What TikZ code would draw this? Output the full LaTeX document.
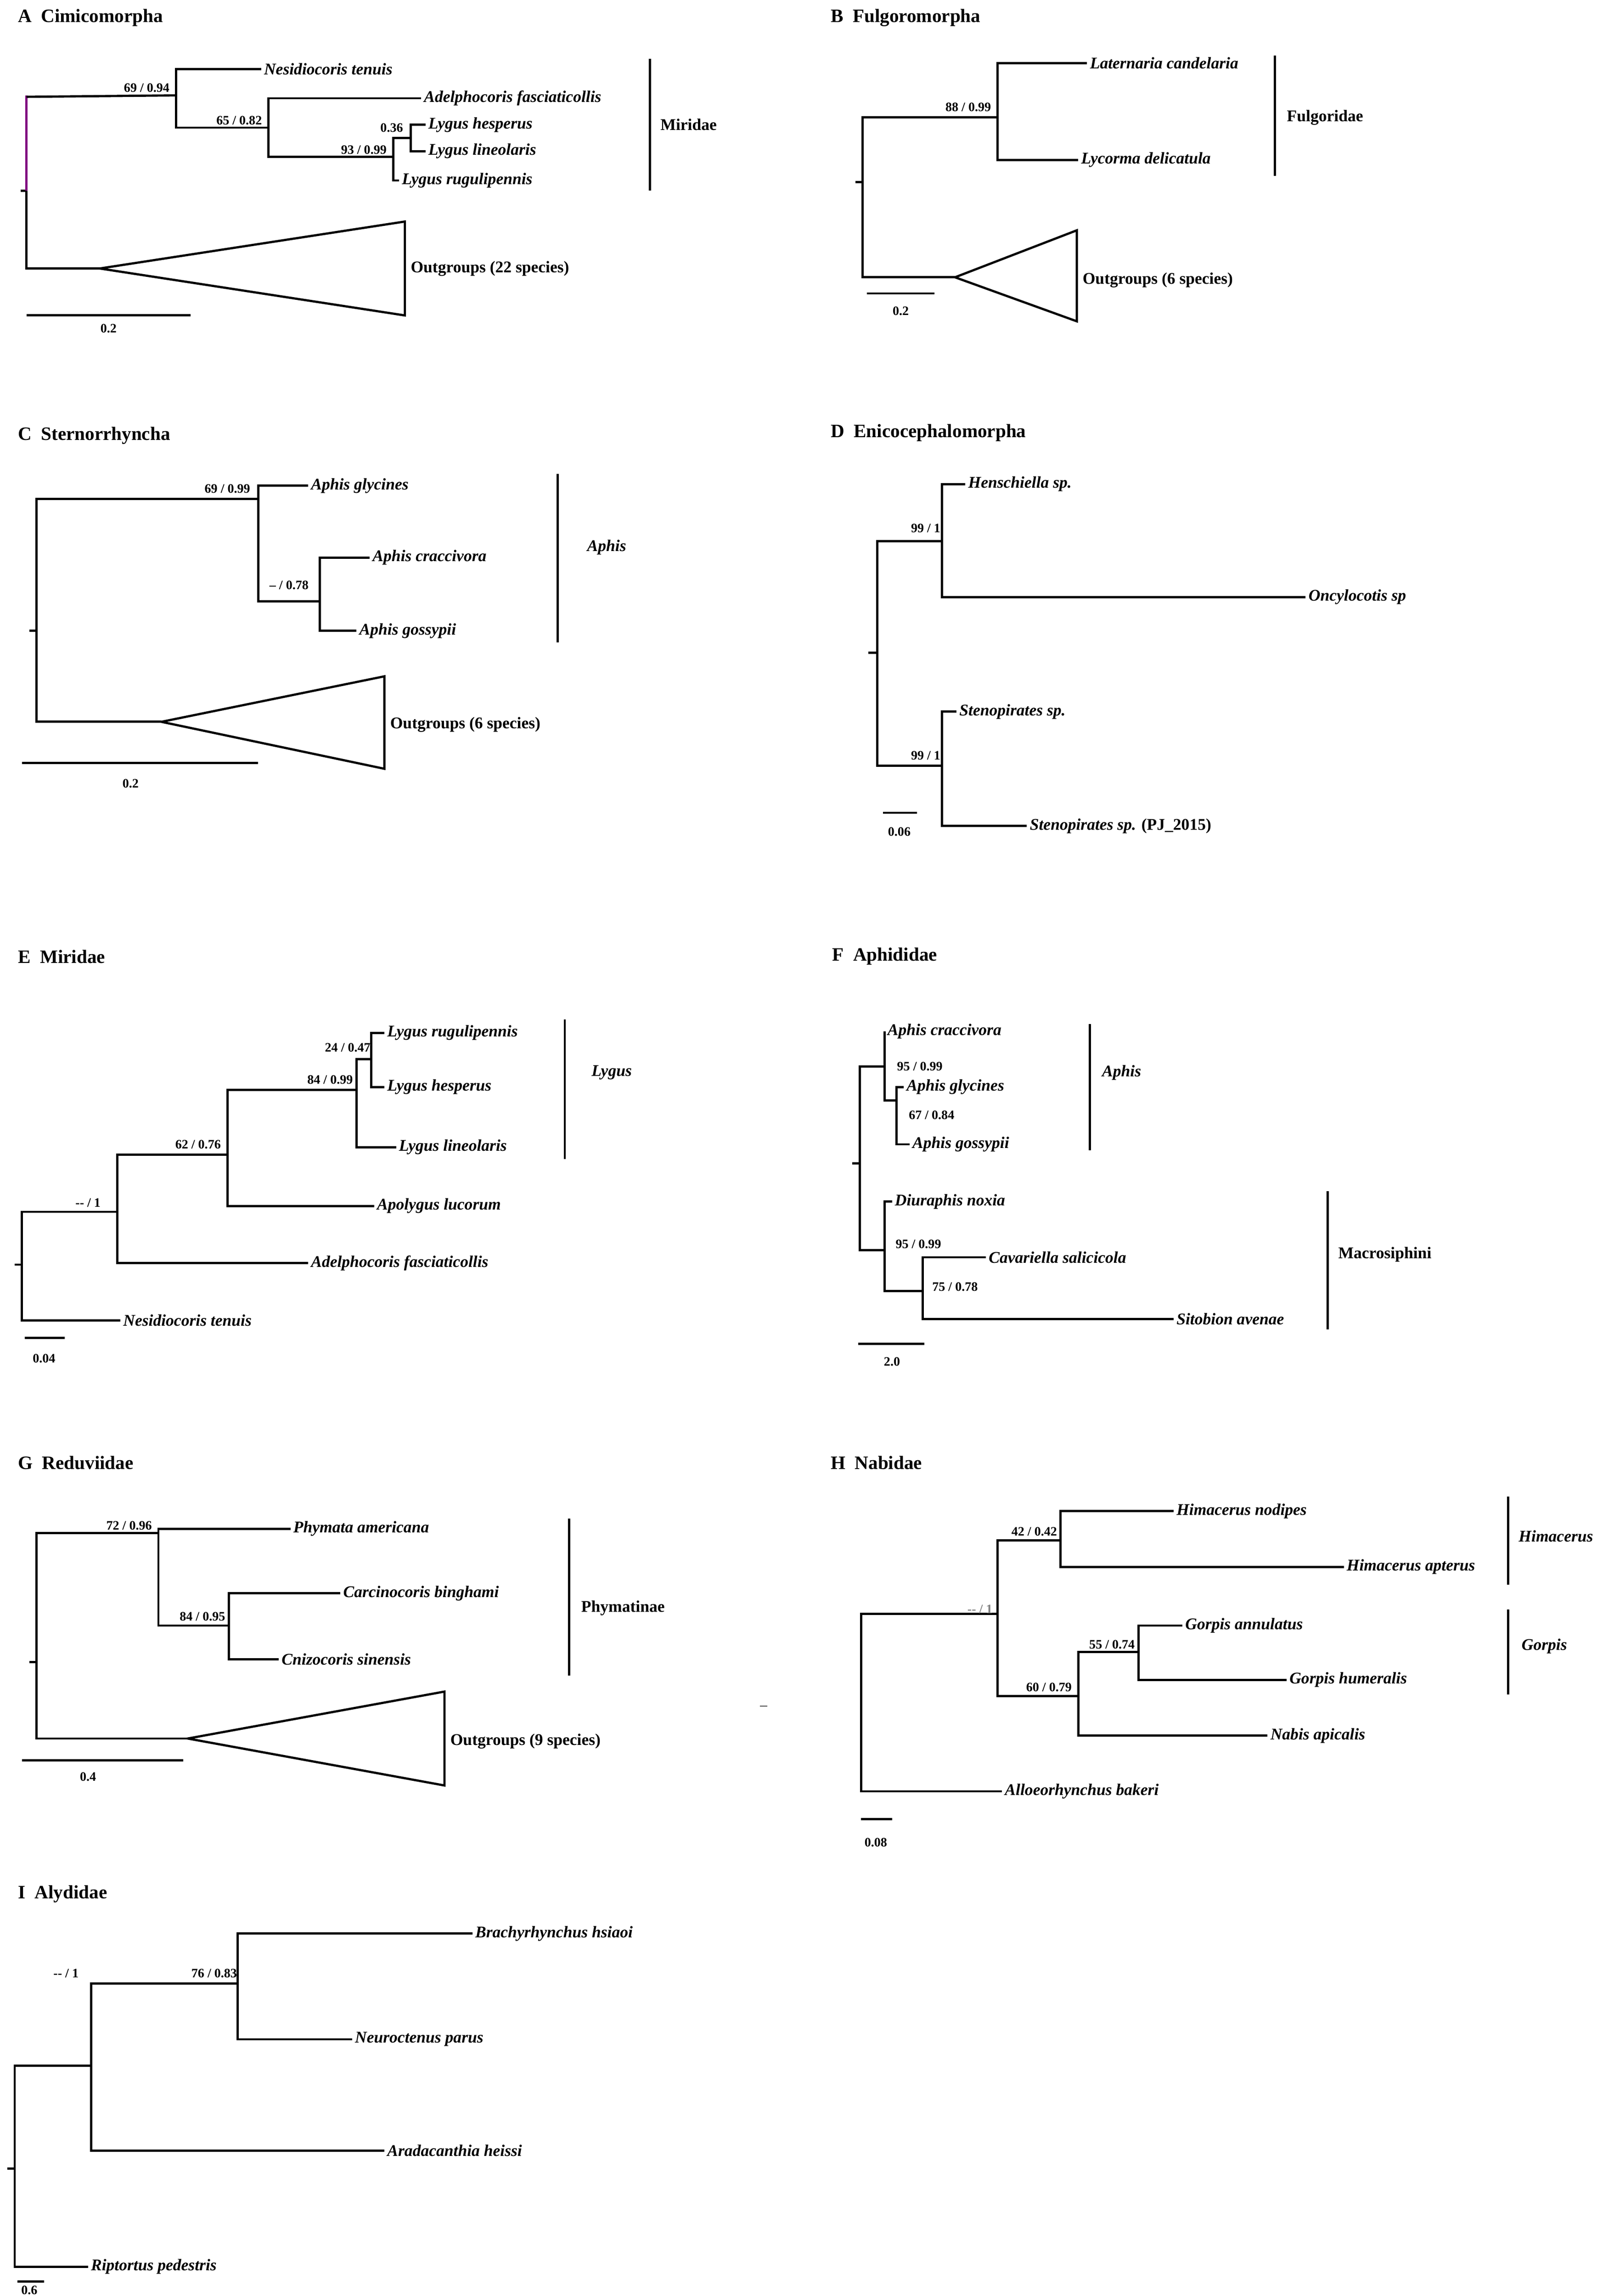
\documentclass[tikz,border=0pt]{standalone}
\usepackage{fontspec}
\setmainfont{Liberation Serif}
\usetikzlibrary{positioning}
\tikzset{
  br/.style={line width=1.3pt},
  tip/.style={anchor=west,inner sep=1.5pt,font=\fontsize{9.5}{10}\selectfont\bfseries\itshape},
  sup/.style={inner sep=0pt,font=\fontsize{7.5}{8}\selectfont\bfseries},
  ttl/.style={anchor=west,inner sep=0pt,font=\fontsize{11}{12}\selectfont\bfseries},
  grp/.style={anchor=west,inner sep=0pt,font=\fontsize{9.5}{10}\selectfont\bfseries},
  igrp/.style={grp,font=\fontsize{9.5}{10}\selectfont\bfseries\itshape},
  outg/.style={anchor=west,inner sep=1.5pt,font=\fontsize{9.5}{10}\selectfont\bfseries}
}
\begin{document}
\begin{tikzpicture}[x=0.03cm,y=-0.03cm]
\useasboundingbox (0,0) rectangle (1100,1565);
% A
\node[ttl] (tA) at (12,12) {A\enspace Cimicomorpha};
\coordinate (rA) at (18,130); \coordinate (a1) at (120,65); \coordinate (a2) at (183,87);
\coordinate (a3) at (268,107); \coordinate (a4) at (280,94); \coordinate (oA) at (68,183);
\node[tip] (Ant) at (178,47) {Nesidiocoris tenuis};
\node[tip] (Aaf) at (287,67) {Adelphocoris fasciaticollis};
\node[tip] (Alh) at (290,85) {Lygus hesperus};
\node[tip] (All) at (290,103) {Lygus lineolaris};
\node[tip] (Alr) at (272,123) {Lygus rugulipennis};
\draw[br] (14,130) -- (rA);
\draw[br,violet] (rA) -- (18,65);
\draw[br] (18,66) -- (a1) (rA) |- (oA);
\draw[br] (a1) |- (Ant.west) (a1) |- (a2) (a2) |- (Aaf.west) (a2) |- (a3)
  (a3) |- (a4) (a3) |- (Alr.west) (a4) |- (Alh.west) (a4) |- (All.west);
\draw[br] (oA) -- (276,151) -- (276,215) -- cycle;
\node[outg] (oAl) at (278,183) {Outgroups (22 species)};
\node[sup] at (100,60) {69 / 0.94};
\node[sup] at (163,82) {65 / 0.82};
\node[sup] at (248,102) {93 / 0.99};
\node[sup] at (267,87) {0.36};
\draw[br] (443,40) -- (443,130); \node[grp] at (450,85) {Miridae};
\draw[br] (18,215) -- (130,215); \node[sup] at (74,224) {0.2};
% B
\node[ttl] (tB) at (566,12) {B\enspace Fulgoromorpha};
\coordinate (rB) at (588,124); \coordinate (b1) at (680,80); \coordinate (oB) at (651,189);
\node[tip] (Blc) at (741,43) {Laternaria candelaria};
\node[tip] (Bld) at (735,109) {Lycorma delicatula};
\draw[br] (583,124) -- (rB) (rB) |- (b1) (rB) |- (oB) (b1) |- (Blc.west) (b1) |- (Bld.west);
\draw[br] (oB) -- (734,157) -- (734,219) -- cycle;
\node[outg] at (736,191) {Outgroups (6 species)};
\node[sup] at (660,73) {88 / 0.99};
\draw[br] (869,38) -- (869,120); \node[grp] at (877,80) {Fulgoridae};
\draw[br] (591,200) -- (637,200); \node[sup] at (614,212) {0.2};
% C
\node[ttl] (tC) at (12,297) {C\enspace Sternorrhyncha};
\coordinate (rC) at (25,430); \coordinate (c1) at (176,340); \coordinate (c2) at (218,410); \coordinate (oC) at (110,492);
\node[tip] (Cgl) at (210,331) {Aphis glycines};
\node[tip] (Ccr) at (252,380) {Aphis craccivora};
\node[tip] (Cgo) at (243,430) {Aphis gossypii};
\draw[br] (20,430) -- (rC) (rC) |- (c1) (rC) |- (oC) (c1) |- (Cgl.west) (c1) |- (c2)
  (c2) |- (Ccr.west) (c2) |- (Cgo.west);
\draw[br] (oC) -- (262,461) -- (262,524) -- cycle;
\node[outg] at (264,494) {Outgroups (6 species)};
\node[sup] at (155,333) {69 / 0.99};
\node[sup] at (197,399) {-- / 0.78};
\draw[br] (380,323) -- (380,438); \node[igrp] at (400,373) {Aphis};
\draw[br] (15,520) -- (176,520); \node[sup] at (89,534) {0.2};
% D
\node[ttl] (tD) at (566,295) {D\enspace Enicocephalomorpha};
\coordinate (rD) at (598,445); \coordinate (d1) at (642,369); \coordinate (d2) at (642,522);
\node[tip] (Dhs) at (658,330) {Henschiella sp.};
\node[tip] (Dos) at (890,407) {Oncylocotis sp};
\node[tip] (Dss) at (652,485) {Stenopirates sp.};
\node[tip] (Dpj) at (700,563) {Stenopirates sp. \upshape(PJ\_2015)};
\draw[br] (592,445) -- (rD) (rD) |- (d1) (rD) |- (d2) (d1) |- (Dhs.west) (d1) |- (Dos.west)
  (d2) |- (Dss.west) (d2) |- (Dpj.west);
\node[sup] at (631,360) {99 / 1};
\node[sup] at (631,515) {99 / 1};
\draw[br] (602,554) -- (625,554); \node[sup] at (613,567) {0.06};
% E
\node[ttl] (tE) at (12,652) {E\enspace Miridae};
\coordinate (rE) at (15,862); \coordinate (e1) at (80,826); \coordinate (e2) at (155,787);
\coordinate (e3) at (243,743); \coordinate (e4) at (253,722);
\node[tip] (Elr) at (262,704) {Lygus rugulipennis};
\node[tip] (Elh) at (262,741) {Lygus hesperus};
\node[tip] (Ell) at (270,782) {Lygus lineolaris};
\node[tip] (Eal) at (255,822) {Apolygus lucorum};
\node[tip] (Eaf) at (210,861) {Adelphocoris fasciaticollis};
\node[tip] (Ent) at (82,900) {Nesidiocoris tenuis};
\draw[br] (10,862) -- (rE) (rE) |- (e1) (rE) |- (Ent.west) (e1) |- (e2) (e1) |- (Eaf.west)
  (e2) |- (e3) (e2) |- (Eal.west) (e3) |- (e4) (e3) |- (Ell.west)
  (e4) |- (Elr.west) (e4) |- (Elh.west);
\node[sup] at (60,820) {-{}- / 1};
\node[sup] at (135,780) {62 / 0.76};
\node[sup] at (225,736) {84 / 0.99};
\node[sup] at (237,714) {24 / 0.47};
\draw[br] (385,695) -- (385,790); \node[igrp] at (403,731) {Lygus};
\draw[br] (17,912) -- (44,912); \node[sup] at (30,926) {0.04};
% F
\node[ttl] (tF) at (567,652) {F\enspace Aphididae};
\coordinate (rF) at (586,793); \coordinate (f1) at (603,727); \coordinate (f2) at (611,750);
\coordinate (f3) at (603,852); \coordinate (f4) at (629,880);
\node[tip] (Fcr) at (603,703) {Aphis craccivora};
\node[tip] (Fgl) at (616,741) {Aphis glycines};
\node[tip] (Fgo) at (620,780) {Aphis gossypii};
\node[tip] (Fdn) at (608,819) {Diuraphis noxia};
\node[tip] (Fcs) at (672,857) {Cavariella salicicola};
\node[tip] (Fsa) at (800,899) {Sitobion avenae};
\draw[br] (581,793) -- (rF) (rF) |- (f1) (rF) |- (f3) (f1) |- (Fcr.west) (f1) |- (f2)
  (f2) |- (Fgl.west) (f2) |- (Fgo.west) (f3) |- (Fdn.west) (f3) |- (f4)
  (f4) |- (Fcs.west) (f4) |- (Fsa.west);
\node[sup] at (627,727) {95 / 0.99};
\node[sup] at (635,760) {67 / 0.84};
\node[sup] at (626,848) {95 / 0.99};
\node[sup] at (651,877) {75 / 0.78};
\draw[br] (743,698) -- (743,784); \node[igrp] at (751,731) {Aphis};
\draw[br] (905,812) -- (905,906); \node[grp] at (912,855) {Macrosiphini};
\draw[br] (585,916) -- (630,916); \node[sup] at (608,928) {2.0};
% G
\node[ttl] (tG) at (12,997) {G\enspace Reduviidae};
\coordinate (rG) at (25,1133); \coordinate (g1) at (108,1045); \coordinate (g2) at (156,1108); \coordinate (oG) at (128,1185);
\node[tip] (Gpa) at (198,1042) {Phymata americana};
\node[tip] (Gcb) at (232,1086) {Carcinocoris binghami};
\node[tip] (Gcs) at (190,1131) {Cnizocoris sinensis};
\draw[br] (20,1133) -- (rG) (rG) |- (g1) (rG) |- (oG) (g1) |- (Gpa.west) (g1) |- (g2)
  (g2) |- (Gcb.west) (g2) |- (Gcs.west);
\draw[br] (oG) -- (303,1153) -- (303,1217) -- cycle;
\node[outg] at (305,1187) {Outgroups (9 species)};
\node[sup] at (88,1040) {72 / 0.96};
\node[sup] at (138,1102) {84 / 0.95};
\draw[br] (388,1035) -- (388,1142); \node[grp] at (396,1096) {Phymatinae};
\draw[br] (15,1200) -- (125,1200); \node[sup] at (60,1211) {0.4};
\draw[gray,line width=0.8pt] (518,1163) -- (523,1163);
% H
\node[ttl] (tH) at (566,997) {H\enspace Nabidae};
\coordinate (rH) at (587,1160); \coordinate (h1) at (680,1100); \coordinate (h2) at (723,1050);
\coordinate (h3) at (735,1156); \coordinate (h4) at (776,1126);
\node[tip] (Hhn) at (800,1030) {Himacerus nodipes};
\node[tip] (Hha) at (916,1068) {Himacerus apterus};
\node[tip] (Hga) at (806,1108) {Gorpis annulatus};
\node[tip] (Hgh) at (877,1145) {Gorpis humeralis};
\node[tip] (Hna) at (864,1183) {Nabis apicalis};
\node[tip] (Hab) at (683,1221) {Alloeorhynchus bakeri};
\draw[br] (rH) |- (h1) (rH) |- (Hab.west) (h1) |- (h2) (h1) |- (h3)
  (h2) |- (Hhn.west) (h2) |- (Hha.west) (h3) |- (h4) (h3) |- (Hna.west)
  (h4) |- (Hga.west) (h4) |- (Hgh.west);
\node[sup,gray] at (668,1097) {-{}- / 1};
\node[sup] at (705,1044) {42 / 0.42};
\node[sup] at (715,1150) {60 / 0.79};
\node[sup] at (758,1121) {55 / 0.74};
\draw[br] (1028,1020) -- (1028,1080); \node[igrp] at (1035,1047) {Himacerus};
\draw[br] (1028,1097) -- (1028,1155); \node[igrp] at (1037,1122) {Gorpis};
\draw[br] (587,1240) -- (608,1240); \node[sup] at (597,1256) {0.08};
% I
\node[ttl] (tI) at (12,1291) {I\enspace Alydidae};
\coordinate (rI) at (10,1478); \coordinate (i1) at (62,1408); \coordinate (i2) at (162,1352);
\node[tip] (Ibh) at (322,1318) {Brachyrhynchus hsiaoi};
\node[tip] (Inp) at (240,1390) {Neuroctenus parus};
\node[tip] (Iah) at (262,1466) {Aradacanthia heissi};
\node[tip] (Irp) at (60,1545) {Riptortus pedestris};
\draw[br] (5,1478) -- (rI) (rI) |- (i1) (rI) |- (Irp.west) (i1) |- (i2) (i1) |- (Iah.west)
  (i2) |- (Ibh.west) (i2) |- (Inp.west);
\node[sup] at (45,1345) {-{}- / 1};
\node[sup] at (146,1345) {76 / 0.83};
\draw[br] (12,1555) -- (30,1555); \node[sup] at (20,1561) {0.6};
\end{tikzpicture}
\end{document}
